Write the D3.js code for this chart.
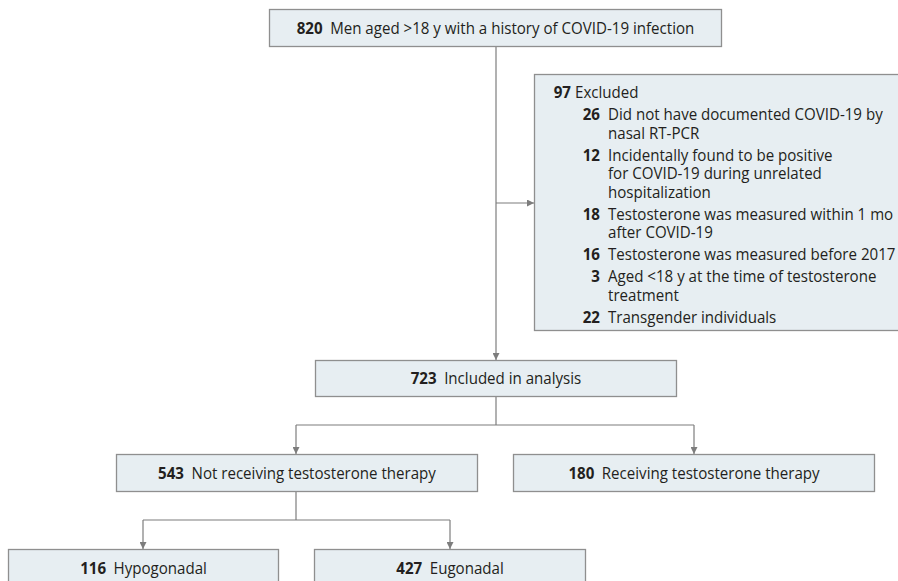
<!DOCTYPE html>
<html><head><meta charset="utf-8">
<script src="https://cdn.jsdelivr.net/npm/d3@7"></script>
<style>
html,body{margin:0;padding:0;background:#fff;}
svg{display:block;}
text{font-family:"Open Sans",sans-serif;font-size:16.5px;fill:#231f20;}
.num{font-weight:700;}
</style></head><body>
<svg id="c" width="898" height="581"></svg>
<script>
// ---- data ----
const stageCounts = [820, 723, 543, 180, 116, 427];
const stageLabels = [
  "Men aged >18 y with a history of COVID-19 infection",
  "Included in analysis",
  "Not receiving testosterone therapy",
  "Receiving testosterone therapy",
  "Hypogonadal",
  "Eugonadal"
];
const excludedTotal = 97;
const excludedTitle = "Excluded";
const excludedCounts = [26, 12, 18, 16, 3, 22];
const excludedReasons = [
  ["Did not have documented COVID-19 by", "nasal RT-PCR"],
  ["Incidentally found to be positive", "for COVID-19 during unrelated", "hospitalization"],
  ["Testosterone was measured within 1 mo", "after COVID-19"],
  ["Testosterone was measured before 2017"],
  ["Aged <18 y at the time of testosterone", "treatment"],
  ["Transgender individuals"]
];

// ---- layout ----
const svg = d3.select("#c");
const boxFill = "#e7eef2", boxStroke = "#8f8f8f", lineCol = "#7d7d7d";
const boxes = [
  {x0:269, x1:721, y0:9,   y1:46},
  {x0:315, x1:676, y0:360, y1:396},
  {x0:116, x1:477, y0:454, y1:491},
  {x0:513, x1:874, y0:454, y1:491},
  {x0:8,   x1:278, y0:549, y1:586},
  {x0:314, x1:585, y0:549, y1:586}
];

const defs = svg.append("defs");
defs.append("marker").attr("id","arr").attr("viewBox","0 0 10 10")
  .attr("refX",10).attr("refY",5).attr("markerWidth",7).attr("markerHeight",7)
  .attr("markerUnits","userSpaceOnUse").attr("orient","auto")
  .append("path").attr("d","M0,0L10,5L0,10Z").attr("fill",lineCol);

const line = d3.line();
function conn(pts, arrow){
  svg.append("path").attr("d", line(pts)).attr("fill","none")
    .attr("stroke", lineCol).attr("stroke-width",1.2)
    .attr("marker-end", arrow ? "url(#arr)" : null);
}

conn([[496,46],[496,360]], true);
conn([[496,203],[534,203]], true);
conn([[496,396],[496,425]], false);
conn([[296,425],[694,425]], false);
conn([[296,425],[296,454]], true);
conn([[694,425],[694,454]], true);
conn([[296,491],[296,520]], false);
conn([[143,520],[450,520]], false);
conn([[143,520],[143,549]], true);
conn([[450,520],[450,549]], true);

svg.append("rect").attr("x",534.5).attr("y",74.5).attr("width",380).attr("height",256)
  .attr("fill",boxFill).attr("stroke",boxStroke).attr("stroke-width",1.3);

// horizontal condensing factor: measured so the top label spans ~398px like the reference
const probe = svg.append("text").attr("x",-1000).attr("y",-1000);
probe.append("tspan").attr("class","num").text(stageCounts[0]);
probe.append("tspan").text("\u2002" + stageLabels[0]);
const sx = 398 / probe.node().getComputedTextLength();
probe.remove();

function txt(x, y, anchor){
  return svg.append("g").attr("transform", `translate(${x},${y}) scale(${sx},1)`)
    .append("text").attr("text-anchor", anchor);
}

boxes.forEach((b,i)=>{
  svg.append("rect").attr("x",b.x0+0.5).attr("y",b.y0+0.5)
    .attr("width",b.x1-b.x0).attr("height",b.y1-b.y0)
    .attr("fill",boxFill).attr("stroke",boxStroke).attr("stroke-width",1.3);
  const t = txt((b.x0+b.x1)/2 + 0.5, (b.y0+b.y1)/2 + 6, "middle");
  t.append("tspan").attr("class","num").text(stageCounts[i]);
  t.append("tspan").text("\u2002" + stageLabels[i]);
});

txt(571, 98, "end").attr("class","num").text(excludedTotal);
txt(575, 98, "start").text(excludedTitle);

let y = 120;
excludedCounts.forEach((c,i)=>{
  txt(600, y, "end").attr("class","num").text(c);
  excludedReasons[i].forEach((ln,j)=>{
    txt(608, y + j*18.6, "start").text(ln);
  });
  y += (excludedReasons[i].length-1)*18.6 + 21.9;
});
</script>
</body></html>
